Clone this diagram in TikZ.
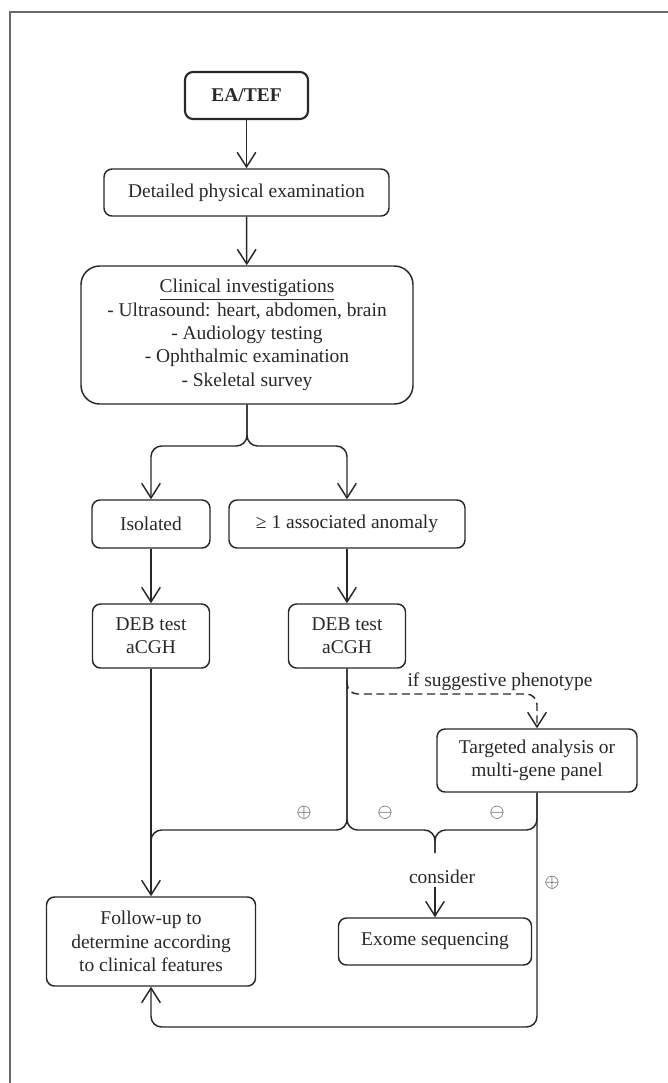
\documentclass[tikz,border=0pt]{standalone}
\usepackage{fontspec}
\setmainfont{Liberation Serif}
\usepackage{tikz}
\usetikzlibrary{arrows.meta,positioning,calc}
\definecolor{ink}{RGB}{40,40,40}
\definecolor{framegray}{RGB}{105,105,105}
\newcommand{\bodyfont}{\fontsize{14.6}{17.5}\selectfont}
\newcommand{\signfont}{\fontsize{15}{17}\selectfont}

\begin{document}
\begin{tikzpicture}[x={(0.75pt,0pt)}, y={(0pt,-0.75pt)},
    box/.style={draw=ink, line width=1.1pt, rounded corners=6pt, align=center, inner sep=0pt, font=\bodyfont, text=ink},
    arr/.style={draw=ink, line width=1.1pt, rounded corners=8pt, -{Straight Barb[length=11pt,width=14pt]}},
    wire/.style={draw=ink, line width=1.1pt, rounded corners=8pt},
    sign/.style={inner sep=0pt, font=\signfont, text=ink}]
        \useasboundingbox (0,0) rectangle (668,1083);
        \draw[framegray, line width=1.5pt] (668,12) -- (10,12) -- (10,1083);
        % boxes
        \node[box, line width=1.6pt, font=\bodyfont\bfseries, minimum width=92.25pt, minimum height=35.25pt] (ea) at (246.5,95.5) {EA/TEF};
        \node[box, minimum width=213.75pt, minimum height=35.25pt] (det) at (246.5,192.5) {Detailed physical examination};
        \node[box, rounded corners=14pt, minimum width=249pt, minimum height=103.5pt] (clin) at (247,335) {\underline{Clinical investigations}\\- Ultrasound: heart, abdomen, brain\\- Audiology testing\\- Ophthalmic examination\\- Skeletal survey};
        \node[box, minimum width=88.5pt, minimum height=36pt] (iso) at (151,524) {Isolated};
        \node[box, minimum width=177pt, minimum height=36pt] (assoc) at (347,524) {≥ 1 associated anomaly};
        \node[box, minimum width=87.75pt, minimum height=48pt] (debL) at (151,636) {DEB test\\aCGH};
        \node[box, minimum width=87.75pt, minimum height=48pt] (debR) at (347,636) {DEB test\\aCGH};
        \node[box, minimum width=150pt, minimum height=47.25pt] (targ) at (537,760.5) {Targeted analysis or\\multi-gene panel};
        \node[box, minimum width=156.75pt, minimum height=66.75pt] (fu) at (151,941.5) {Follow-up to\\determine according\\to clinical features};
        \node[box, minimum width=144.75pt, minimum height=35.25pt] (exome) at (435,941.5) {Exome sequencing};
        % labels
        \node[font=\bodyfont, text=ink, inner sep=0pt] (phen) at (500,682) {if suggestive phenotype};
        \node[font=\bodyfont, text=ink, inner sep=2pt] (consider) at (442,877) {consider};
        \node[sign] (p1) at (304,813) {$\oplus$};
        \node[sign] (m1) at (385,813) {$\ominus$};
        \node[sign] (m2) at (497,813) {$\ominus$};
        \node[sign] (p2) at (552,883) {$\oplus$};
        % joints
        \coordinate (split) at (247,446);
        \coordinate (merge) at (347,830);
        \coordinate (stem) at (435,853);
        \coordinate (dash) at (0,694);
        \coordinate (loop) at (0,1027);
        % connectors
        \draw[arr] (ea) -- (det);
        \draw[arr] (det) -- (clin);
        \draw[arr] (clin.south) -- (split) -| (iso.north);
        \draw[arr] (clin.south) -- (split) -| (assoc.north);
        \draw[arr] (iso) -- (debL);
        \draw[arr] (assoc) -- (debR);
        \draw[arr] (debL) -- (fu);
        \draw[wire] (debR.south) |- (fu.north |- merge) -- ++(0,25);
        \draw[wire] (debR.south) |- (stem |- merge) -- (stem);
        \draw[wire] (targ.south) |- (stem |- merge) -- (stem);
        \draw[arr, dashed, dash pattern=on 6pt off 3.5pt] (debR.south) ++(0,12) |- (dash -| targ.north) -- (targ.north);
        \draw[arr] (exome.north |- consider.south) -- (exome.north);
        \draw[arr] (targ.south) -- (targ.south |- loop) -| (fu.south);
    \end{tikzpicture}
\end{document}
